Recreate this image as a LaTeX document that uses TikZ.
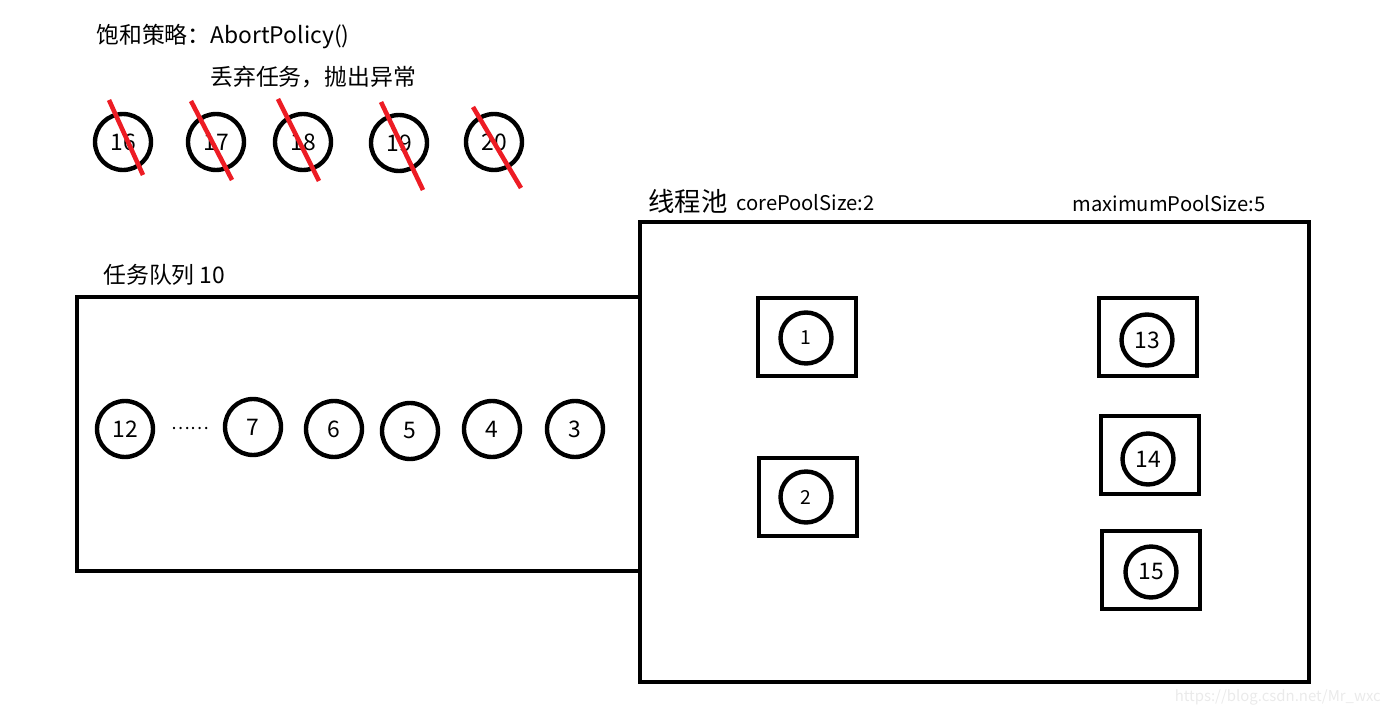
\documentclass[tikz,border=0pt]{standalone}
\usepackage{fontspec}
\setmainfont{Noto Sans CJK SC}
\usetikzlibrary{calc}
\definecolor{crossred}{RGB}{237,28,36}
\definecolor{markgray}{RGB}{234,234,234}

\begin{document}
\begin{tikzpicture}[x=0.02cm,y=-0.02cm,
  task/.style={draw,circle,line width=2.5pt,minimum size=1.12cm,inner sep=0pt,font=\fontsize{13}{15}\selectfont},
  ptask/.style={task,minimum size=1.02cm},
  worker/.style={draw,line width=2.5pt,minimum width=1.96cm,minimum height=1.56cm,inner sep=0pt},
  strike/.style={crossred,line width=2.6pt},
  lbl/.style={anchor=west,inner sep=0pt,font=\fontsize{13}{15}\selectfont},
  small/.style={lbl,font=\fontsize{11.5}{13}\selectfont}]
  \useasboundingbox (0,0) rectangle (1394,716);
  % policy
  \node[lbl] (policy) at (96,37) {饱和策略：AbortPolicy()};
  \node[lbl] (reject) at (210,77) {丢弃任务，抛出异常};
  \foreach \n/\x/\y/\ax/\ay/\bx/\by in {16/123/142/-14/-42/20/33,17/216/142/-25/-41/16/38,
      18/303/142/-25/-43/16/39,19/399/143/-18/-41/24/47,20/494/142/-21/-35/27/46}{
    \node[task] (t\n) at (\x,\y) {\n};
    \draw[strike] ($(t\n.center)+(\ax,\ay)$) -- ($(t\n.center)+(\bx,\by)$);
  }
  % queue
  \node[lbl] (qlabel) at (103,275) {任务队列 10};
  \draw[line width=2.5pt] (77,297) rectangle (640,571);
  \foreach \n/\x/\y in {12/125/429,7/253/427,6/334/429,5/410/431,4/492/429,3/575/429}
    \node[task] (q\n) at (\x,\y) {\n};
  \node (dots) at (190,429) {……};
  % pool
  \node[lbl,font=\fontsize{15}{17}\selectfont] (plabel) at (648,201) {线程池};
  \node[small] (core) at (736,203) {corePoolSize:2};
  \node[small] (maxsize) at (1072,204) {maximumPoolSize:5};
  \draw[line width=2.5pt] (640,222) rectangle (1309,682);
  \foreach \n/\x/\y/\cx/\cy in {1/807/337/806/338,2/808/497/806/497}{
    \node[worker] (w\n) at (\x,\y) {};
    \node[ptask,font=\fontsize{11}{13}\selectfont] (p\n) at (\cx,\cy) {\n};
  }
  \foreach \n/\x/\y/\cx/\cy in {13/1148/337/1147/340,14/1150/455/1148/459,15/1151/570/1151/572}{
    \node[worker] (w\n) at (\x,\y) {};
    \node[ptask] (p\n) at (\cx,\cy) {\n};
  }
  \node[anchor=east,text=markgray,font=\fontsize{8.5}{10}\selectfont] (mark) at (1387,697) {https://blog.csdn.net/Mr\_wxc};
\end{tikzpicture}
\end{document}
